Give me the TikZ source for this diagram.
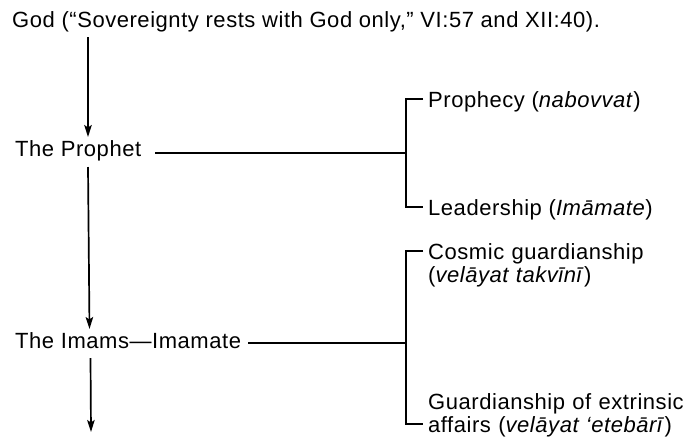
\documentclass[tikz,border=0pt]{standalone}
\usepackage{fontspec}
\setmainfont[LetterSpace=2.5]{Liberation Sans}
\usetikzlibrary{arrows.meta,calc}
\begin{document}
\begin{tikzpicture}[x=1pt,y=1pt,
  lbl/.style={anchor=base west, inner sep=0pt, font=\fontsize{22}{23}\selectfont},
  lbl2/.style={lbl, text width=265pt, align=left},
  ln/.style={line width=1.7pt, line cap=butt},
  arr/.style={ln, -{Stealth[length=12pt,width=7.5pt,inset=2.5pt]}}]
\fill[white] (0,0) rectangle (691,-437);
\useasboundingbox (0,0) rectangle (691,-437);

\node[lbl] (god) at (12,-27) {God (“Sovereignty rests with God only,” VI:57 and XII:40).};
\node[lbl] (prophet) at (15,-156) {The Prophet};
\node[lbl] (imams) at (15,-348) {The Imams—Imamate};
\node[lbl] (prophecy) at (428,-107) {Prophecy (\textit{nabovvat})};
\node[lbl] (leadership) at (428,-215) {Leadership (\textit{Imāmate})};
\node[lbl2] (cosmic) at (428,-259) {Cosmic guardianship\\(\textit{velāyat takvīnī})};
\node[lbl2] (guard) at (428,-409) {Guardianship of extrinsic\\affairs (\textit{velāyat ‘etebārī})};
\coordinate (end) at (91,-432);

% vertical arrows
\draw[arr] ($(god.base west)+(76,-10)$) -- ($(prophet.base west)+(73,19)$);
\draw[arr] ($(prophet.base west)+(73,-11)$) -- ($(imams.base west)+(74.5,19)$);
\draw[arr] ($(imams.base west)+(75.5,-10)$) -- (end);

% prophet branch
\draw[ln] (155,-153) -- (406,-153);
\draw[ln] ($(prophecy.base west)+(-5,8)$) -| ($(leadership.base west)+(-22,8)$) -- ($(leadership.base west)+(-5,8)$);

% imams branch
\draw[ln] (248,-343) -- (406,-343);
\draw[ln] ($(cosmic.base west)+(-5,8)$) -| ($(guard.base west)+(-22,-15)$) -- ($(guard.base west)+(-5,-15)$);
\end{tikzpicture}
\end{document}
